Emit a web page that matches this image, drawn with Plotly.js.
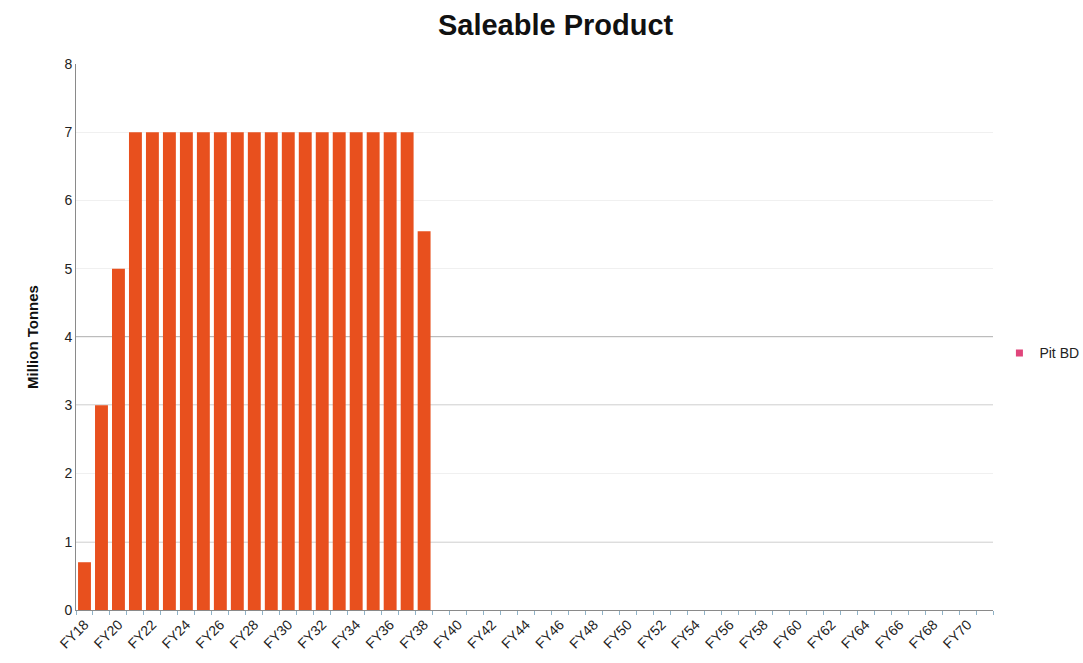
<!DOCTYPE html>
<html><head><meta charset="utf-8">
<script src="https://cdn.plot.ly/plotly-3.0.1.min.js"></script>
<style>html,body{margin:0;padding:0;background:#fff}#chart{width:1083px;height:663px}</style>
</head><body><div id="chart"></div>
<script>
const categories = [];
for (let y = 18; y <= 71; y++) categories.push('FY' + y);
const pitBD = [0.7, 3.0, 5.0, 7, 7, 7, 7, 7, 7, 7, 7, 7, 7, 7, 7, 7, 7, 7, 7, 7, 5.55];
const tickLabels = categories.map((c, i) => (i % 2 === 0 ? c : ''));
const seriesName = 'Pit BD';
const darkGridValues = [1, 2, 3, 4];

const barX = categories.slice(0, pitBD.length);
const emptyX = categories.slice(pitBD.length);

const traces = [
  {type: 'bar', x: barX, y: pitBD, name: seriesName,
   marker: {color: '#E8501E', line: {width: 0}}, showlegend: false, hoverinfo: 'x+y'},
  {type: 'bar', x: emptyX, y: emptyX.map(() => 0),
   showlegend: false, marker: {color: '#E8501E', line: {width: 0}}, hoverinfo: 'skip'},
  {type: 'scatter', mode: 'markers', x: [null], y: [null], name: seriesName,
   marker: {symbol: 'square', color: '#E0457B', size: 7}}
];

const shapes = darkGridValues.map(v => ({
  type: 'line', xref: 'paper', yref: 'y', x0: 0, x1: 1, y0: v, y1: v,
  line: {color: '#7a7a7a', width: 1.2}, layer: 'between'
}));

const layout = {
  width: 1083, height: 663,
  margin: {l: 76, r: 90, t: 64, b: 53, autoexpand: false},
  paper_bgcolor: '#fff', plot_bgcolor: '#fff',
  font: {family: 'Liberation Sans, Arial, sans-serif', color: '#222', size: 14},
  title: {text: '<b>Saleable Product</b>', x: 0.513, xref: 'container', xanchor: 'center',
          y: 0.962, yanchor: 'middle',
          font: {size: 29, color: '#111'}},
  bargap: 0.24,
  showlegend: true,
  legend: {x: 1.007, y: 0.47, xanchor: 'left', yanchor: 'middle', font: {size: 14, color: '#222'},
           bgcolor: 'rgba(0,0,0,0)', itemwidth: 30},
  xaxis: {type: 'category', categoryorder: 'array', categoryarray: categories,
          range: [-0.5, categories.length - 0.5],
          tickmode: 'array', tickvals: categories, ticktext: tickLabels, tickson: 'boundaries',
          tickangle: -45, tickfont: {size: 14, color: '#222'},
          showline: true, linecolor: '#8a8a8a', linewidth: 1,
          ticks: 'outside', ticklen: 4, tickcolor: '#8fb3c8', showgrid: false, zeroline: false},
  yaxis: {range: [0, 8], dtick: 1, tick0: 0,
          title: {text: '<b>Million Tonnes</b>', font: {size: 15, color: '#111'}, standoff: 22},
          tickfont: {size: 14, color: '#222'},
          showline: true, linecolor: '#8a8a8a', linewidth: 1,
          showgrid: true, gridcolor: '#f0f0f0', zeroline: false, ticks: '', ticklen: 0},
  shapes: shapes
};

Plotly.newPlot('chart', traces, layout, {displayModeBar: false, responsive: false});
</script>
</body></html>
